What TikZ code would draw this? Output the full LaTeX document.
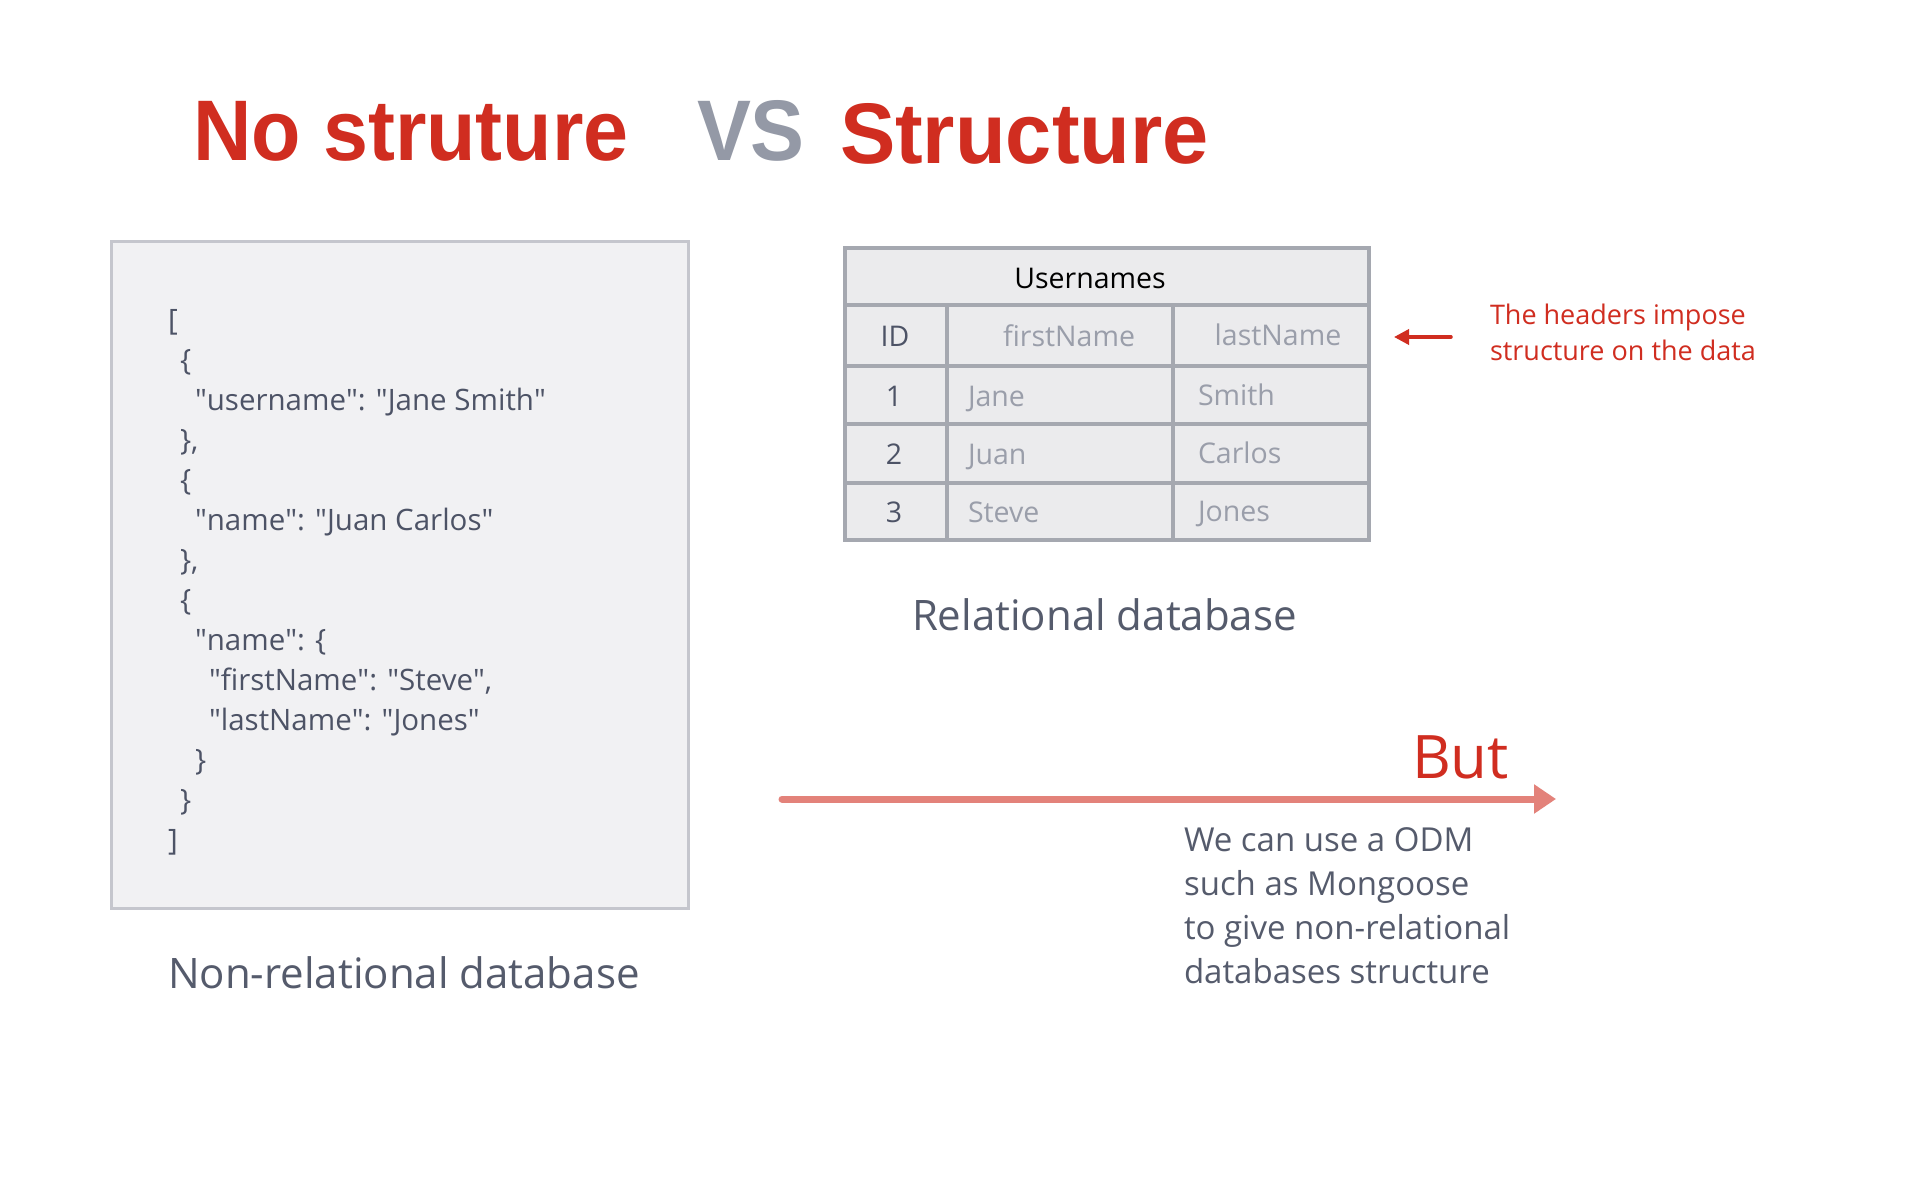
\documentclass[tikz,border=0pt]{standalone}
\usepackage{fontspec}
\setmainfont{Open Sans}
\newfontfamily\titlefont{Liberation Sans}[FakeStretch=0.94]
\newfontfamily\titlefontb{Liberation Sans}[FakeStretch=0.965]
\newcommand\dq{\textquotedbl}
\usetikzlibrary{arrows.meta}
\definecolor{titlered}{RGB}{208,45,32}
\definecolor{vsgrey}{RGB}{148,153,166}
\definecolor{slate}{RGB}{85,91,108}
\definecolor{jsontext}{RGB}{77,83,102}
\definecolor{lightgrey}{RGB}{154,158,170}
\definecolor{boxfill}{RGB}{241,241,243}
\definecolor{boxline}{RGB}{197,198,205}
\definecolor{tblfill}{RGB}{235,235,237}
\definecolor{tblline}{RGB}{165,168,176}
\definecolor{salmon}{RGB}{227,130,122}
\begin{document}
\begin{tikzpicture}[x=1pt,y=-1pt,
  every node/.style={inner sep=0pt,outer sep=0pt},
  title/.style={font=\titlefont\bfseries\fontsize{86}{90}\selectfont,text=titlered,anchor=base west},
  json/.style={font=\fontsize{29.5}{34}\selectfont,text=jsontext,anchor=base west},
  caption/.style={font=\fontsize{42}{50}\selectfont,text=slate,anchor=base west},
  cell/.style={font=\fontsize{28.5}{34}\selectfont,text=lightgrey,anchor=base west},
  cellc/.style={font=\fontsize{28.5}{34}\selectfont,text=lightgrey,anchor=base},
  body/.style={font=\fontsize{33}{44}\selectfont,text=slate,anchor=base west},
  note/.style={font=\fontsize{27}{36}\selectfont,text=titlered,anchor=base west},
  jsonbox/.style={draw=boxline,fill=boxfill,line width=3pt,minimum width=577pt,minimum height=667pt},
  tablebox/.style={draw=tblline,fill=tblfill,line width=4pt,minimum width=524pt,minimum height=292pt},
  tblrule/.style={draw=tblline,line width=4pt},
  longarrow/.style={draw=salmon,line width=7pt,line cap=round,-{Triangle[length=22pt,width=28pt]}},
  redarrow/.style={draw=titlered,line width=3.5pt,line cap=round,-{Triangle[length=15pt,width=15pt]}}
]
\useasboundingbox[fill=white] (0,0) rectangle (1912,1184);

% titles
\node[title] (t1) at (193,160) {No struture};
\node[title,text=vsgrey] (tvs) at (697,160) {VS};
\node[title,font=\titlefontb\bfseries\fontsize{86}{90}\selectfont] (t2) at (840,163) {Structure};

% JSON box
\node[jsonbox] (box) at (399.5,574.5) {};
\node[json] (j1) at (168,330) {[};
\node[json] (j2) at (180,370) {\{};
\node[json] (j3) at (195,410) {\dq username\dq: \dq Jane Smith\dq};
\node[json] (j4) at (180,450) {\},};
\node[json] (j5) at (180,490) {\{};
\node[json] (j6) at (195,530) {\dq name\dq: \dq Juan Carlos\dq};
\node[json] (j7) at (180,570) {\},};
\node[json] (j8) at (180,610) {\{};
\node[json] (j9) at (195,650) {\dq name\dq: \{};
\node[json] (j10) at (209,690) {\dq firstName\dq: \dq Steve\dq,};
\node[json] (j11) at (209,730) {\dq lastName\dq: \dq Jones\dq};
\node[json] (j12) at (195,770) {\}};
\node[json] (j13) at (180,810) {\}};
\node[json] (j14) at (168,850) {]};
\node[caption] (c1) at (168,988) {Non-relational database};

% table
\node[tablebox] (tbl) at (1107,394) {};
\draw[tblrule] (845,305) -- (1369,305);
\draw[tblrule] (845,366) -- (1369,366);
\draw[tblrule] (845,424) -- (1369,424);
\draw[tblrule] (845,483) -- (1369,483);
\draw[tblrule] (947,305) -- (947,540);
\draw[tblrule] (1173,305) -- (1173,540);
\node[cellc,text=black] (hname) at (1090,288) {Usernames};
\node[cellc,text=jsontext] (hid) at (895,346) {ID};
\node[cellc] (hfirst) at (1069,346) {firstName};
\node[cellc] (hlast) at (1278,345) {lastName};
\node[cellc,text=jsontext] (r1) at (894,406) {1};
\node[cellc,text=jsontext] (r2) at (894,464) {2};
\node[cellc,text=jsontext] (r3) at (894,522) {3};
\node[cell] (f1) at (968,406) {Jane};
\node[cell] (f2) at (968,464) {Juan};
\node[cell] (f3) at (968,522) {Steve};
\node[cell] (l1) at (1198,405) {Smith};
\node[cell] (l2) at (1198,463) {Carlos};
\node[cell] (l3) at (1198,521) {Jones};
\node[caption] (c2) at (912,630) {Relational database};

% note
\node[note] (n1) at (1490,324) {The headers impose};
\node[note] (n2) at (1490,360) {structure on the data};
\coordinate (hdrR) at (1369,337);
\coordinate (noteL) at (1451,337);
\draw[redarrow] (noteL) -- ([xshift=25pt]hdrR);

% but arrow
\coordinate (a0) at (782,799);
\coordinate (a1) at (1556,799);
\draw[longarrow] (a0) -- (a1);
\node[font=\fontsize{60}{70}\selectfont,text=titlered,anchor=base west] (but) at (1412,778) {But};
\node[body] (b1) at (1184,851) {We can use a ODM};
\node[body] (b2) at (1184,895) {such as Mongoose};
\node[body] (b3) at (1184,939) {to give non-relational};
\node[body] (b4) at (1184,983) {databases structure};
\end{tikzpicture}
\end{document}
